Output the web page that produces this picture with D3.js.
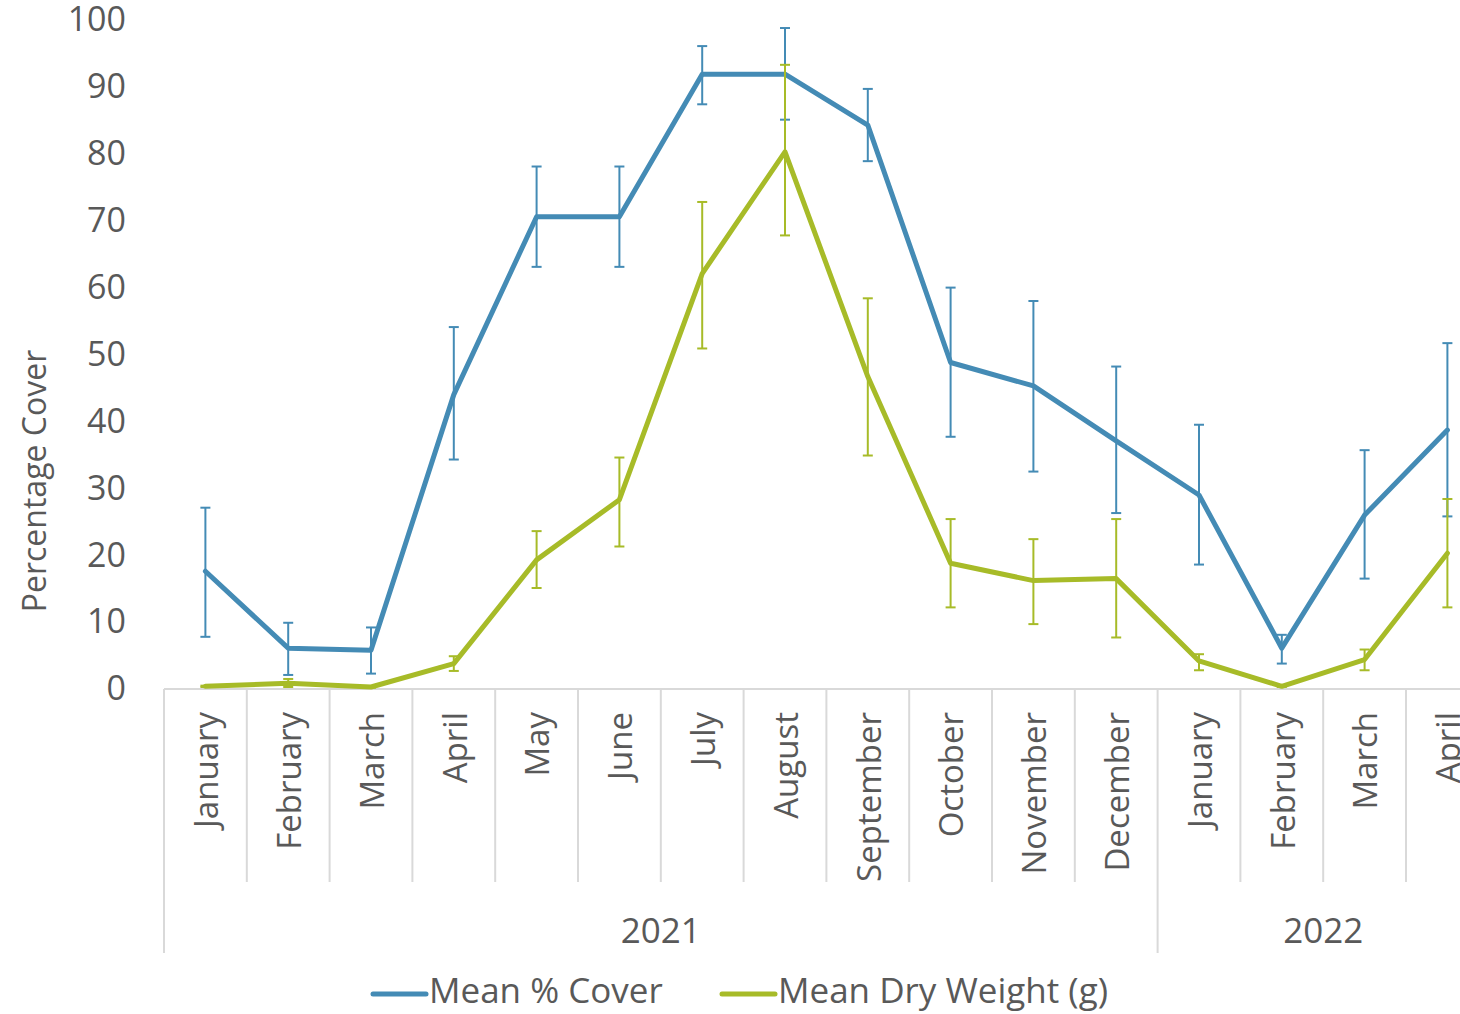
<!DOCTYPE html>
<html>
<head>
<meta charset="utf-8">
<script src="https://cdn.jsdelivr.net/npm/d3@7"></script>
<style>
  body { margin: 0; background: #fff; }
  svg { display: block; font-family: "Open Sans", sans-serif; }
  .lbl { fill: #595959; }
</style>
</head>
<body>
<svg width="1460" height="1014"></svg>
<script>
// month categories + which year they belong to
const months = ["January", "February", "March", "April", "May", "June", "July", "August",
  "September", "October", "November", "December", "January", "February", "March", "April"];
const years = ["2021", "2022"];
const yearOf = [0,0,0,0,0,0,0,0,0,0,0,0,1,1,1,1];

const coverMean = [17.6, 6.1, 5.8, 44.0, 70.6, 70.6, 91.9, 91.9, 84.3, 48.8, 45.3, 37.1, 29.0, 6.1, 26.0, 38.7];
const coverHi   = [27.1, 9.9, 9.2, 54.1, 78.1, 78.1, 96.1, 98.8, 89.7, 60.0, 58.0, 48.2, 39.5, 8.1, 35.7, 51.7];
const coverLo   = [7.8, 2.1, 2.3, 34.3, 63.1, 63.1, 87.4, 85.1, 78.9, 37.7, 32.5, 26.3, 18.6, 3.8, 16.5, 25.8];

const dryMean = [0.4, 0.85, 0.3, 3.8, 19.3, 28.3, 62.1, 80.3, 46.7, 18.8, 16.2, 16.5, 4.2, 0.4, 4.4, 20.3];
const dryHi   = [0.5, 1.5, 0.4, 4.9, 23.6, 34.6, 72.8, 93.3, 58.4, 25.4, 22.4, 25.4, 5.2, 0.5, 5.9, 28.4];
const dryLo   = [0.3, 0.3, 0.2, 2.7, 15.1, 21.3, 50.9, 67.8, 34.9, 12.2, 9.7, 7.7, 2.8, 0.3, 2.8, 12.2];

const yTicks = [0, 10, 20, 30, 40, 50, 60, 70, 80, 90, 100];

const series = [
  { name: "Mean % Cover", color: "#448bb5", mean: coverMean, hi: coverHi, lo: coverLo },
  { name: "Mean Dry Weight (g)", color: "#a7bb28", mean: dryMean, hi: dryHi, lo: dryLo }
];

const svg = d3.select("svg");
const plotLeft = 164, plotTop = 20, plotBottom = 689;
const gray = "#d9d9d9";

let x = d3.scaleBand()
  .domain(d3.range(months.length))
  .range([plotLeft, plotLeft + 16 * 82.8]);
let y = d3.scaleLinear()
  .domain([0, 100])
  .range([plotBottom, plotTop]);
let cx = i => x(i) + x.bandwidth() / 2;

// y axis (labels only)
svg.append("g")
  .attr("transform", `translate(${plotLeft},0)`)
  .call(d3.axisLeft(y).tickValues(yTicks).tickSize(0).tickPadding(38))
  .call(g => g.select(".domain").remove())
  .selectAll("text")
    .attr("class", "lbl")
    .attr("font-size", 34)
    .attr("font-family", "Open Sans, sans-serif");

svg.append("text")
  .attr("class", "lbl")
  .attr("transform", "translate(35,481) rotate(-90)")
  .attr("text-anchor", "middle")
  .attr("dy", "0.35em")
  .attr("font-size", 32)
  .text("Percentage Cover");

// category axis: baseline, month dividers, year dividers
let ax = svg.append("g");
ax.append("line")
  .attr("x1", plotLeft).attr("x2", x.range()[1])
  .attr("y1", plotBottom).attr("y2", plotBottom)
  .attr("stroke", gray).attr("stroke-width", 2);

ax.selectAll(".mdiv")
  .data(d3.range(months.length + 1))
  .enter().append("line")
    .attr("x1", i => i < months.length ? x(i) : x.range()[1])
    .attr("x2", i => i < months.length ? x(i) : x.range()[1])
    .attr("y1", plotBottom)
    .attr("y2", i => (i == 0 || i == 12 || i == months.length) ? 953 : 882)
    .attr("stroke", gray).attr("stroke-width", 2);

ax.selectAll(".month")
  .data(months)
  .enter().append("text")
    .attr("class", "lbl")
    .attr("transform", (d, i) => `translate(${cx(i) + 1},712) rotate(-90)`)
    .attr("text-anchor", "end")
    .attr("dy", "0.36em")
    .attr("font-size", 33)
    .text(d => d);

ax.selectAll(".year")
  .data(years)
  .enter().append("text")
    .attr("class", "lbl")
    .attr("x", (d, k) => {
      let idx = d3.range(months.length).filter(i => yearOf[i] == k);
      return (x(idx[0]) + x(idx[idx.length - 1]) + x.bandwidth()) / 2;
    })
    .attr("y", 943)
    .attr("text-anchor", "middle")
    .attr("font-size", 35)
    .text(d => d);

// lines and error bars
let line = d3.line()
  .x((d, i) => cx(i))
  .y(d => y(d));

series.forEach(s => {
  let g = svg.append("g");
  g.append("path")
    .datum(s.mean)
    .attr("fill", "none")
    .attr("stroke", s.color)
    .attr("stroke-width", 5)
    .attr("stroke-linejoin", "round")
    .attr("stroke-linecap", "round")
    .attr("d", line);

  let eb = g.selectAll(".err")
    .data(s.mean.map((m, i) => ({ i: i, hi: s.hi[i], lo: s.lo[i] })))
    .enter().append("g")
      .attr("stroke", s.color)
      .attr("stroke-width", 2);
  eb.append("line")
    .attr("x1", d => cx(d.i)).attr("x2", d => cx(d.i))
    .attr("y1", d => y(d.hi)).attr("y2", d => y(d.lo));
  eb.append("line")
    .attr("x1", d => cx(d.i) - 5).attr("x2", d => cx(d.i) + 5)
    .attr("y1", d => y(d.hi)).attr("y2", d => y(d.hi));
  eb.append("line")
    .attr("x1", d => cx(d.i) - 5).attr("x2", d => cx(d.i) + 5)
    .attr("y1", d => y(d.lo)).attr("y2", d => y(d.lo));
});

// legend
let legX = [373, 722];
let leg = svg.selectAll(".leg")
  .data(series)
  .enter().append("g")
    .attr("transform", (d, i) => `translate(${legX[i]},994)`);
leg.append("line")
  .attr("x1", 0).attr("x2", 53)
  .attr("stroke", d => d.color)
  .attr("stroke-width", 5)
  .attr("stroke-linecap", "round");
leg.append("text")
  .attr("class", "lbl")
  .attr("x", 56)
  .attr("y", 9)
  .attr("font-size", 35)
  .text(d => d.name);
</script>
</body>
</html>
